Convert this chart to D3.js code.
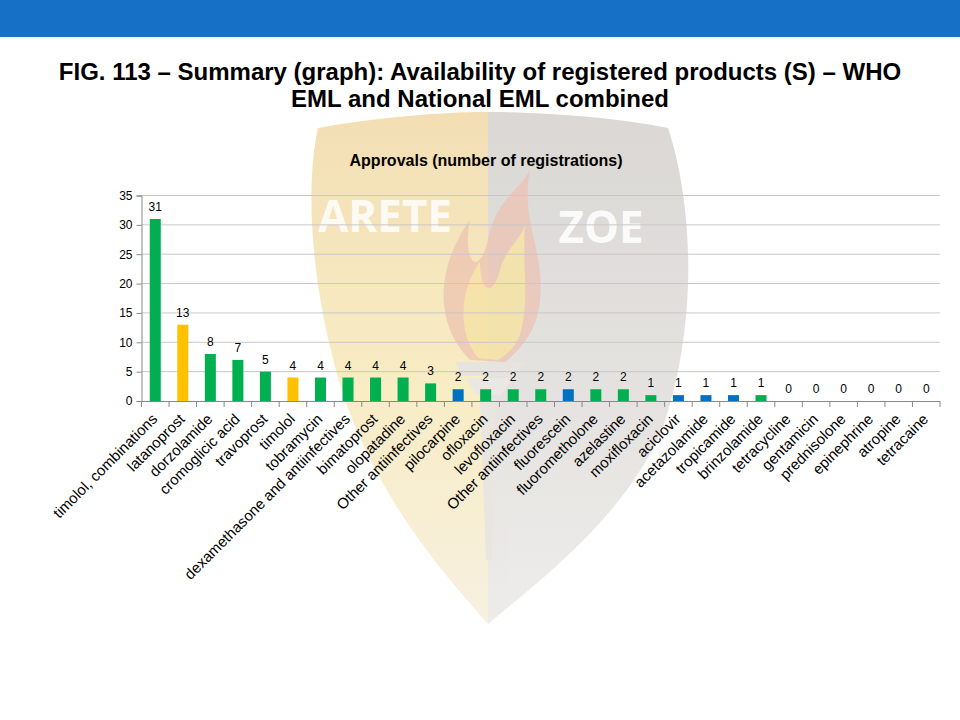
<!DOCTYPE html>
<html><head><meta charset="utf-8">
<script src="https://cdn.jsdelivr.net/npm/d3@7/dist/d3.min.js"></script>
<style>body{margin:0;background:#fff;}svg{display:block;font-family:"Liberation Sans",Arial,sans-serif;}</style>
</head><body>
<script>
const categories = ["timolol, combinations","latanoprost","dorzolamide","cromoglicic acid","travoprost","timolol","tobramycin","dexamethasone and antiinfectives","bimatoprost","olopatadine","Other antiinfectives","pilocarpine","ofloxacin","levofloxacin","Other antiinfectives","fluorescein","fluorometholone","azelastine","moxifloxacin","aciclovir","acetazolamide","tropicamide","brinzolamide","tetracycline","gentamicin","prednisolone","epinephrine","atropine","tetracaine"];
const values = [31,13,8,7,5,4,4,4,4,4,3,2,2,2,2,2,2,2,1,1,1,1,1,0,0,0,0,0,0];
const groups = ["g","y","g","g","g","y","g","g","g","g","g","b","g","g","g","b","g","g","g","b","b","b","g","g","g","g","g","g","g"];
const yTicks = [0,5,10,15,20,25,30,35];
const titleLines = ["FIG. 113 – Summary (graph): Availability of registered products (S) – WHO","EML and National EML combined"];
const chartTitle = "Approvals (number of registrations)";
const groupColor = {g:"#00b050", y:"#ffc000", b:"#0070c0"};

const W=960,H=720;
const svg=d3.select("body").append("svg").attr("width",W).attr("height",H);
const defs=svg.append("defs");
const gl=defs.append("linearGradient").attr("id","warm").attr("x1",0).attr("y1",0).attr("x2",0).attr("y2",1);
gl.append("stop").attr("offset","0%").attr("stop-color","#f2d9a8");
gl.append("stop").attr("offset","55%").attr("stop-color","#f7eabb");
gl.append("stop").attr("offset","100%").attr("stop-color","#f6eedc");
const gr=defs.append("linearGradient").attr("id","cool").attr("x1",0).attr("y1",0).attr("x2",0).attr("y2",1);
gr.append("stop").attr("offset","0%").attr("stop-color","#d4d1ce");
gr.append("stop").attr("offset","100%").attr("stop-color","#ebe9e6");

// banner
svg.append("rect").attr("x",0).attr("y",0).attr("width",W).attr("height",37).attr("fill","#1570c6");

// watermark shield
const wm=svg.append("g").attr("opacity",0.85);
wm.append("path").attr("d","M488,112 C430,112 360,120 318,128 C304,190 312,300 345,400 C380,500 440,570 488,624 Z").attr("fill","url(#warm)");
wm.append("path").attr("d","M488,112 C546,112 620,118 668,128 C692,200 700,320 662,430 C622,520 540,580 488,624 Z").attr("fill","url(#cool)");
// flame
wm.append("path").attr("d","M470,360 C430,320 440,260 470,220 C462,260 478,280 488,240 C495,200 520,190 530,170 C520,220 545,250 540,300 C538,330 520,350 505,362 Z").attr("fill","#e9b7a3").attr("opacity",0.7);
wm.append("path").attr("d","M478,358 C455,330 462,285 480,262 C480,290 492,300 500,270 C505,250 520,240 525,225 C522,270 530,300 520,335 C515,348 505,356 498,360 Z").attr("fill","#f6e59a").attr("opacity",0.8);
wm.append("path").attr("d","M455,362 L525,362 L518,376 L462,376 Z").attr("fill","#e3e0da");
wm.append("path").attr("d","M466,378 L514,378 L500,395 L476,395 Z").attr("fill","#e8e5df");
wm.append("path").attr("d","M480,398 L496,398 L492,560 L486,560 Z").attr("fill","#e6e2da");
wm.append("text").attr("x",385).attr("y",232).attr("text-anchor","middle").attr("font-family","'Open Sans',Arial,sans-serif").attr("font-weight","bold").attr("font-size",44).attr("fill","#ffffff").attr("opacity",0.85).text("ARETE");
wm.append("text").attr("x",601).attr("y",243).attr("text-anchor","middle").attr("font-family","'Open Sans',Arial,sans-serif").attr("font-weight","bold").attr("font-size",44).attr("fill","#ffffff").attr("opacity",0.9).text("ZOE");

// titles
svg.append("g").selectAll("text").data(titleLines).join("text")
  .attr("x",480).attr("y",(d,i)=>80+i*27).attr("text-anchor","middle")
  .attr("font-weight","bold").attr("font-size",24).attr("fill","#000").text(d=>d);
svg.append("text").attr("x",486).attr("y",166).attr("text-anchor","middle").attr("font-weight","bold").attr("font-size",16).attr("fill","#000").text(chartTitle);

// chart
const x=d3.scaleBand().domain(d3.range(categories.length)).range([141.5,940]).paddingInner(0.6).paddingOuter(0.3);
const y=d3.scaleLinear().domain([0,35]).range([401,195.5]);

const grid=svg.append("g");
grid.selectAll("line").data(yTicks.slice(1)).join("line")
  .attr("x1",141.5).attr("x2",940).attr("y1",d=>y(d)).attr("y2",d=>y(d))
  .attr("stroke","#c8c8c8").attr("stroke-width",1);

const yAxis=svg.append("g").attr("transform","translate(141.5,0)")
  .call(d3.axisLeft(y).tickValues(yTicks).tickSize(5).tickPadding(4));
yAxis.select(".domain").attr("stroke","#888");
yAxis.selectAll(".tick line").attr("stroke","#888");
yAxis.selectAll("text").attr("font-size",12).attr("fill","#000").attr("font-family","'Liberation Sans',Arial,sans-serif");

// bars
svg.append("g").selectAll("rect").data(values).join("rect")
  .attr("x",(d,i)=>x(i)).attr("width",x.bandwidth())
  .attr("y",d=>y(d)).attr("height",d=>y(0)-y(d))
  .attr("fill",(d,i)=>groupColor[groups[i]]);

// value labels
svg.append("g").selectAll("text").data(values).join("text")
  .attr("x",(d,i)=>x(i)+x.bandwidth()/2).attr("y",d=>y(d)-8)
  .attr("text-anchor","middle").attr("font-size",12).attr("fill","#000").text(d=>d);

// x axis
const step=x.step();
const xa=svg.append("g");
xa.append("line").attr("x1",141.5).attr("x2",940).attr("y1",401.5).attr("y2",401.5).attr("stroke","#888");
xa.selectAll("line.t").data(d3.range(categories.length+1)).join("line").attr("class","t")
  .attr("x1",d=>141.5+d*step).attr("x2",d=>141.5+d*step).attr("y1",401).attr("y2",407).attr("stroke","#888");
xa.selectAll("text").data(categories).join("text")
  .attr("transform",(d,i)=>`translate(${x(i)+x.bandwidth()/2+3},${420}) rotate(-45)`)
  .attr("text-anchor","end").attr("font-size",15).attr("fill","#000").text(d=>d);
</script>
</body></html>
